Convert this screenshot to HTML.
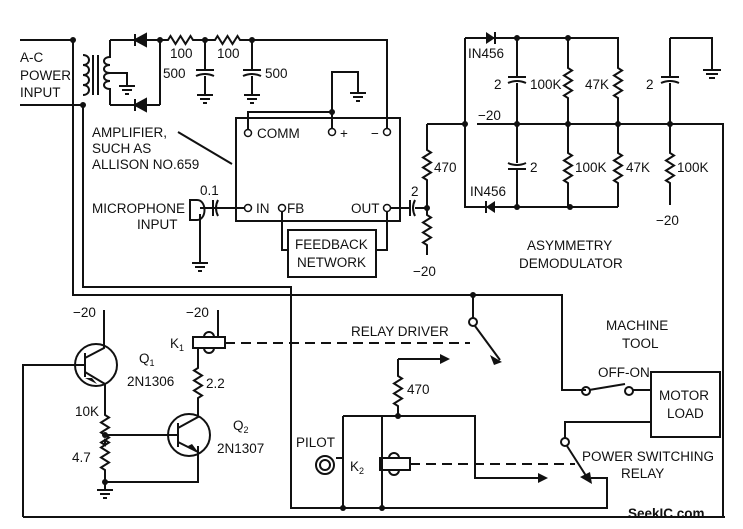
<!DOCTYPE html>
<html><head><meta charset="utf-8"><style>
html,body{margin:0;padding:0;background:#fff}
svg{display:block}
text{font-family:"Liberation Sans",sans-serif;font-size:13.5px;fill:#111}
</style></head><body>
<svg width="743" height="529" viewBox="0 0 743 529" xmlns="http://www.w3.org/2000/svg">
<g stroke="#111" stroke-width="2" fill="none">
<path d="M20 40H73 M20 105H83 M73 40V295H562V390H586 M83 105V287H291V508H607V478H591"/>
<path d="M83 55c8 0 8 10 0 10c8 0 8 10 0 10c8 0 8 10 0 10c8 0 8 10 0 10"/>
<path d="M93 55V95 M98 55V95"/>
<path d="M110 40V57c-8 0-8 8 0 8c-8 0-8 8 0 8c-8 0-8 8 0 8c-8 0-8 8 0 8V105 M110 73H127V86"/>
<path d="M119 86H135 M122 90H132 M125 94H129"/>
<path d="M110 40H160 M110 105H160 M160 40V105"/>
<path d="M160 40H168l2.5-4 5 8 5-8 5 8 5-8 2.5 4H215l2.5-4 5 8 5-8 5 8 5-8 2.5 4H387V132"/>
<path d="M205 40V70 M196 70H214 M196 76q9-4 18 0 M205 76V95 M197 95H213 M200 99H210 M203 103H207"/>
<path d="M252 40V70 M243 70H261 M243 76q9-4 18 0 M252 76V95 M244 95H260 M247 99H257 M250 103H254"/>
<rect x="236" y="118" width="164" height="103"/>
<path d="M248 129V112H332V129 M332 112V72H358V93 M350 93H366 M353 97H363 M356 101H360"/>
<path d="M178 132L232 164"/>
<path d="M252 208H210 M213 200V216 M218 200q-4 8 0 16 M218 208H200"/>
<path d="M197 200h-7v20h7c10 0 10-20 0-20z M200 214V263 M192 263H208 M195 267H205 M198 271H202"/>
<path d="M282 212V250H288 M387 212V250H376"/>
<rect x="288" y="230" width="88" height="47"/>
<path d="M391 208H410 M410 200V216 M415 200q-4 8 0 16 M415 208H427"/>
<path d="M427 124H465 M427 124V150l4 2.5-8 5 8 5-8 5 8 5-8 5 4 2.5V215l4 2.5-8 5 8 5-8 5 8 5-8 5 4 2.5V255"/>
<path d="M465 38V207H618 M465 38H618V68l4 2.5-8 5 8 5-8 5 8 5-8 5 4 2.5V153l4 2.5-8 5 8 5-8 5 8 5-8 5 4 2.5V207"/>
<path d="M477 124H723V517 M517 38V77 M508 77H526 M508 83q9-4 18 0 M517 83V163 M508 163q9 4 18 0 M508 169H526 M517 169V207"/>
<path d="M568 38V68l4 2.5-8 5 8 5-8 5 8 5-8 5 4 2.5V153l4 2.5-8 5 8 5-8 5 8 5-8 5 4 2.5V207"/>
<path d="M670 38V77 M661 77H679 M661 83q9-4 18 0 M670 83V153l4 2.5-8 5 8 5-8 5 8 5-8 5 4 2.5V205 M670 38H712V70 M703 70H721 M706 74H718 M709 78H715"/>
<path d="M23 517H725 M23 517V365H85"/>
<circle cx="96" cy="365" r="21"/>
<path d="M85 353V377 M85 358L104 348V310 M85 372L105 384V415l4 2.5-8 5 8 5-8 5 8 5-8 5 4 2.5V440l4 2.5-8 5 8 5-8 5 8 5-8 5 4 2.5V490 M97 490H113 M100 494H110 M103 498H107"/>
<path d="M105 435H178 M105 482H198V446"/>
<circle cx="189" cy="435" r="21"/>
<path d="M178 423V447 M178 428L198 417V398l4-2.5-8-5 8-5-8-5 8-5-8-5 4-2.5V348 M178 442L198 452"/>
<rect x="193" y="337" width="32" height="11"/>
<path d="M218 310V337 M204 337a5 5 0 0 1 10 0 M204 348a5 5 0 0 0 10 0"/>
<path d="M225 343H470" stroke-dasharray="10 6"/>
<path d="M473 295V318 M475 326L500 360"/>
<circle cx="473" cy="322" r="4"/>
<path d="M398 359V376l4 2.5-8 5 8 5-8 5 8 5-8 5 4 2.5V416"/>
<path d="M398 359H440 M343 416H475V478H538"/>
<path d="M343 416V508 M382 416V508 M343 458H336"/>
<circle cx="325" cy="465" r="9"/><circle cx="325" cy="465" r="5"/>
<rect x="380" y="458" width="30" height="12"/>
<path d="M389 458a5 5 0 0 1 10 0 M389 470a5 5 0 0 0 10 0"/>
<path d="M410 464H575" stroke-dasharray="10 6"/>
<path d="M565 438V422H651 M567 446L590 482"/>
<circle cx="565" cy="442" r="4"/>
<path d="M589 390L625 384 M632 390H651"/>
<circle cx="586" cy="391" r="4"/><circle cx="629" cy="391" r="4"/>
<rect x="651" y="372" width="69" height="65"/>
</g>
<g fill="#111">
<path d="M135 34V46 M135 40L146 34V46Z M135 99V111 M135 105L146 99V111Z" stroke="#111" stroke-width="2"/>
<path d="M486 32L495 38L486 44Z M495 201L486 207L495 213Z" />
<path d="M495 32V44 M486 201V213" stroke="#111" stroke-width="2"/>
<path d="M440 354L450 359L440 364Z M538 473L548 478L538 483Z M490 355L502 362L494 365Z M580 477L592 484L590 472Z M85 378L97 384L92 378Z M198 452L188 446L192 444Z"/>
<circle cx="73" cy="40" r="3"/><circle cx="83" cy="105" r="3"/><circle cx="160" cy="40" r="3"/>
<circle cx="205" cy="40" r="3"/><circle cx="252" cy="40" r="3"/><circle cx="332" cy="112" r="3"/>
<circle cx="427" cy="208" r="3"/><circle cx="465" cy="124" r="3"/>
<circle cx="517" cy="38" r="3"/><circle cx="568" cy="38" r="3"/><circle cx="517" cy="207" r="3"/><circle cx="570" cy="207" r="3"/>
<circle cx="517" cy="124" r="3"/><circle cx="568" cy="124" r="3"/><circle cx="618" cy="124" r="3"/><circle cx="670" cy="124" r="3"/>
<circle cx="473" cy="295" r="3"/><circle cx="105" cy="435" r="3"/><circle cx="105" cy="482" r="3"/>
<circle cx="398" cy="416" r="3"/><circle cx="343" cy="508" r="3"/><circle cx="382" cy="508" r="3"/>
</g>
<g fill="#fff" stroke="#111" stroke-width="1.5">
<circle cx="248" cy="133" r="3.5"/><circle cx="332" cy="132" r="3.5"/><circle cx="387" cy="132" r="3.5"/>
<circle cx="248" cy="208" r="3.5"/><circle cx="282" cy="208" r="3.5"/><circle cx="387" cy="208" r="3.5"/>
</g>
<text x="20" y="62">A-C</text><text x="20" y="80">POWER</text><text x="20" y="97">INPUT</text>
<text x="170" y="58">100</text><text x="217" y="58">100</text>
<text x="163" y="78">500</text><text x="265" y="78">500</text>
<text x="92" y="137">AMPLIFIER,</text><text x="92" y="153">SUCH AS</text><text x="92" y="169">ALLISON NO.659</text>
<text x="257" y="138">COMM</text><text x="340" y="138">+</text><text x="371" y="138">−</text>
<text x="200" y="195">0.1</text>
<text x="92" y="213">MICROPHONE</text><text x="137" y="229">INPUT</text>
<text x="256" y="213">IN</text><text x="287" y="213">FB</text><text x="351" y="213">OUT</text>
<text x="295" y="249">FEEDBACK</text><text x="297" y="267">NETWORK</text>
<text x="411" y="196">2</text><text x="434" y="172">470</text><text x="413" y="276">−20</text>
<text x="468" y="58">IN456</text><text x="470" y="196">IN456</text>
<text x="478" y="120">−20</text>
<text x="494" y="89">2</text><text x="530" y="89">100K</text><text x="585" y="89">47K</text><text x="646" y="89">2</text>
<text x="530" y="172">2</text><text x="575" y="172">100K</text><text x="626" y="172">47K</text><text x="677" y="172">100K</text>
<text x="656" y="225">−20</text>
<text x="527" y="250">ASYMMETRY</text><text x="519" y="268">DEMODULATOR</text>
<text x="73" y="317">−20</text><text x="186" y="317">−20</text>
<text x="170" y="348">K<tspan font-size="9" dy="3">1</tspan></text>
<text x="139" y="363">Q<tspan font-size="9" dy="3">1</tspan></text><text x="127" y="386">2N1306</text>
<text x="75" y="416">10K</text><text x="206" y="388">2.2</text>
<text x="233" y="430">Q<tspan font-size="9" dy="3">2</tspan></text><text x="217" y="453">2N1307</text>
<text x="72" y="462">4.7</text>
<text x="351" y="336">RELAY DRIVER</text>
<text x="606" y="330">MACHINE</text><text x="622" y="348">TOOL</text>
<text x="407" y="394">470</text>
<text x="598" y="377">OFF-ON</text>
<text x="659" y="400">MOTOR</text><text x="667" y="418">LOAD</text>
<text x="296" y="447">PILOT</text>
<text x="350" y="471">K<tspan font-size="9" dy="3">2</tspan></text>
<text x="582" y="461">POWER SWITCHING</text><text x="621" y="478">RELAY</text>
<text x="628" y="518" font-weight="bold" fill="#666">SeekIC.com</text>
</svg>
</body></html>
